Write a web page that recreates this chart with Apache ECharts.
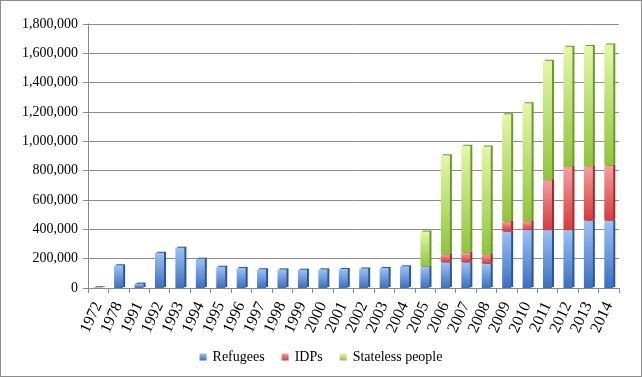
<!DOCTYPE html>
<html>
<head>
<meta charset="utf-8">
<script src="https://cdn.jsdelivr.net/npm/echarts@6/dist/echarts.min.js"></script>
<style>
  html, body { margin: 0; padding: 0; background: #fff; }
  #chart { width: 640px; height: 375px; border: 1px solid #8c8c8c; }
</style>
</head>
<body>
<div id="chart"></div>
<script>
// years on the x axis
const years = ["1972", "1978", "1991", "1992", "1993", "1994", "1995", "1996", "1997", "1998",
  "1999", "2000", "2001", "2002", "2003", "2004", "2005", "2006", "2007", "2008",
  "2009", "2010", "2011", "2012", "2013", "2014"];

const refugees = [5000, 155000, 30000, 240000, 275000, 200000, 145000, 137000, 128000, 127000,
  125000, 127000, 130000, 133000, 137000, 148000, 145000, 175000, 175000, 165000,
  385000, 395000, 395000, 395000, 460000, 460000];

const idps = [0, 0, 0, 0, 0, 0, 0, 0, 0, 0,
  0, 0, 0, 0, 0, 0, 0, 55000, 65000, 65000,
  70000, 60000, 340000, 430000, 370000, 375000];

const stateless = [0, 0, 0, 0, 0, 0, 0, 0, 0, 0,
  0, 0, 0, 0, 0, 0, 240000, 675000, 730000, 735000,
  730000, 805000, 815000, 820000, 820000, 825000];

const fontFamily = "Liberation Serif, serif";

function grad(top, bottom) {
  return new echarts.graphic.LinearGradient(0, 0, 0, 1, [
    { offset: 0, color: top },
    { offset: 1, color: bottom }
  ]);
}

function makeSeries(name, data, top, bottom, side) {
  return {
    name: name,
    type: "bar",
    stack: "total",
    barWidth: 9,
    data: data,
    itemStyle: {
      color: grad(top, bottom),
      shadowColor: side,
      shadowOffsetX: 2,
      shadowOffsetY: -1,
      shadowBlur: 0
    }
  };
}

let myChart = echarts.init(document.getElementById("chart"));
myChart.setOption({
  animation: false,
  textStyle: { fontFamily: fontFamily },
  grid: { left: 87, right: 22, top: 23, bottom: 88 },
  legend: {
    bottom: 7,
    left: "center",
    itemWidth: 7,
    itemHeight: 7,
    itemGap: 17,
    icon: "rect",
    textStyle: { fontFamily: fontFamily, fontSize: 14, color: "#000", padding: [0, 0, 0, 1] },
    data: ["Refugees", "IDPs", "Stateless people"]
  },
  xAxis: {
    type: "category",
    data: years,
    axisLine: { lineStyle: { color: "#888" } },
    axisTick: { show: true, interval: 0, length: 5, lineStyle: { color: "#888" } },
    axisLabel: {
      interval: 0,
      rotate: 65,
      color: "#000",
      fontSize: 16,
      margin: 15,
      fontFamily: fontFamily
    }
  },
  yAxis: {
    type: "value",
    min: 0,
    max: 1800000,
    interval: 200000,
    axisLine: { show: true, lineStyle: { color: "#888" } },
    axisTick: { show: true, length: 5, lineStyle: { color: "#888" } },
    splitLine: { lineStyle: { color: "#8c8c8c", width: 1 } },
    axisLabel: {
      color: "#000",
      fontSize: 14,
      margin: 10,
      fontFamily: fontFamily,
      formatter: (v) => v.toLocaleString("en-US")
    }
  },
  series: [
    makeSeries("Refugees", refugees, "#9cc2f4", "#3a6fc2", "#2c569a"),
    makeSeries("IDPs", idps, "#f4a0a0", "#d63a3a", "#a52a2a"),
    makeSeries("Stateless people", stateless, "#e4f7a8", "#8fc43c", "#6a9a2a")
  ]
});
</script>
</body>
</html>
